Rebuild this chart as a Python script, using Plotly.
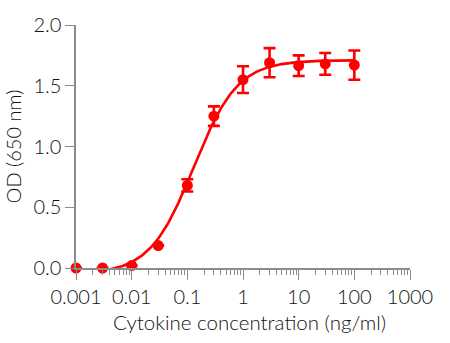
import numpy as np
import plotly.graph_objects as go

# Data
concentration = [0.001, 0.003, 0.01, 0.03, 0.1, 0.3, 1, 3, 10, 30, 100]
od_mean = [0.0, 0.0, 0.02, 0.185, 0.68, 1.25, 1.55, 1.69, 1.665, 1.68, 1.67]
od_err = [0.0, 0.0, 0.0, 0.0, 0.05, 0.08, 0.11, 0.12, 0.085, 0.09, 0.12]

# 4-parameter logistic fit parameters (estimated from the drawn curve)
fit_bottom = -0.05
fit_top = 1.71
fit_ec50 = 0.13
fit_hill = 1.1
fit_range = [0.004, 100]

fit_x = np.logspace(np.log10(fit_range[0]), np.log10(fit_range[1]), 300)
fit_y = fit_bottom + (fit_top - fit_bottom) / (1 + (fit_ec50 / fit_x) ** fit_hill)

x_tickvals = [0.001, 0.01, 0.1, 1, 10, 100, 1000]
x_ticktext = ["0.001", "0.01", "0.1", "1", "10", "100", "1000"]
y_tickvals = [0.0, 0.5, 1.0, 1.5, 2.0]
y_ticktext = ["0.0", "0.5", "1.0", "1.5", "2.0"]

RED = "#ff0000"
AXIS = "#8c8c8c"
FONT = "Lato"

fig = go.Figure()
fig.add_trace(go.Scatter(
    x=fit_x, y=fit_y, mode="lines",
    line=dict(color=RED, width=2.6), hoverinfo="skip", showlegend=False,
))
fig.add_trace(go.Scatter(
    x=concentration, y=od_mean, mode="markers",
    marker=dict(color=RED, size=11),
    error_y=dict(type="data", array=od_err, color=RED, thickness=2.6, width=6,
                 visible=True),
    cliponaxis=False, showlegend=False,
))

fig.add_annotation(
    text="Cytokine concentration (ng/ml)",
    xref="paper", yref="paper", x=0.52, y=-0.221,
    xanchor="center", yanchor="middle", showarrow=False,
    font=dict(size=20.5, weight=300),
)

fig.update_layout(
    width=450, height=343,
    margin=dict(l=76, r=40, t=19, b=75),
    paper_bgcolor="white", plot_bgcolor="white",
    font=dict(family=FONT, size=20, color="#111111", weight=300),
    xaxis=dict(
        type="log", range=[-3, 3],
        tickvals=x_tickvals, ticktext=x_ticktext,
        showline=True, linecolor=AXIS, linewidth=1.5,
        ticks="outside", ticklen=10, tickwidth=1.3, tickcolor=AXIS,
        minor=dict(ticks="outside", ticklen=5, tickwidth=1, tickcolor=AXIS,
                   dtick="D1", showgrid=False),
        showgrid=False, zeroline=False,
        tickfont=dict(size=20, weight=300),
    ),
    yaxis=dict(
        range=[0, 2.0],
        tickvals=y_tickvals, ticktext=y_ticktext,
        showline=True, linecolor=AXIS, linewidth=1.5,
        ticks="outside", ticklen=9, tickwidth=1.3, tickcolor=AXIS,
        showgrid=False, zeroline=False,
        title=dict(text="OD (650 nm)", standoff=6, font=dict(size=20, weight=300)),
        tickfont=dict(size=20, weight=300),
    ),
)

fig.write_html("out.html")
